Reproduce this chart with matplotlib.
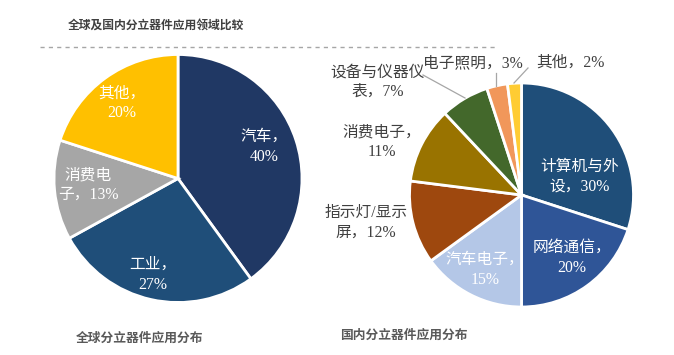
import matplotlib
matplotlib.use("Agg")
import matplotlib.pyplot as plt

# ---------------- data ----------------
global_labels = ["汽车，\n40%", "工业，\n27%", "消费电\n子，13%", "其他，\n20%"]
global_values = [40, 27, 13, 20]

china_labels = ["计算机与外\n设，30%", "网络通信，\n20%", "汽车电子，\n15%",
                "指示灯/显示\n屏，12%", "消费电子，\n11%", "设备与仪器仪\n表，7%",
                "电子照明，3%", "其他，2%"]
china_values = [30, 20, 15, 12, 11, 7, 3, 2]

title = "全球及国内分立器件应用领域比较"
sub_left = "全球分立器件应用分布"
sub_right = "国内分立器件应用分布"

# ---------------- style / layout ----------------
W, H = 674, 355
global_colors = ["#203864", "#1F4E79", "#A6A6A6", "#FFC000"]
china_colors = ["#1F4E79", "#2F5597", "#B4C7E7", "#9E480E", "#997300",
                "#43682B", "#F1975A", "#FFCC33"]

# label positions in pixel coords (x, y from top)
global_label_pos = [(264, 147), (153, 275), (88, 185), (122, 103)]
global_label_col = ["white"] * 4
china_label_pos = [(580, 177), (572, 258), (485, 270), (366, 223),
                   (382, 142), (378, 82), (473, 63), (570, 63)]
china_label_col = ["white", "white", "white", "#404040", "#404040",
                   "#404040", "#404040", "#404040"]

label_font = ["Liberation Serif", "Noto Sans CJK SC"]
cjk_font = ["Noto Sans CJK SC", "DejaVu Sans"]

fig = plt.figure(figsize=(W / 100, H / 100), dpi=100)
ax = fig.add_axes([0, 0, 1, 1])

def Y(y):
    return H - y

ax.pie(global_values, colors=global_colors, startangle=90, counterclock=False,
       center=(178, Y(178.5)), radius=124,
       wedgeprops=dict(edgecolor="white", linewidth=2))
ax.pie(china_values, colors=china_colors, startangle=90, counterclock=False,
       center=(521.5, Y(195)), radius=112,
       wedgeprops=dict(edgecolor="white", linewidth=2))

for lab, (x, y), c in zip(global_labels, global_label_pos, global_label_col):
    ax.text(x, Y(y), lab, ha="center", va="center", multialignment="center",
            color=c, fontsize=11.3, family=label_font, linespacing=1.3)
for lab, (x, y), c in zip(china_labels, china_label_pos, china_label_col):
    ax.text(x, Y(y), lab, ha="center", va="center", multialignment="center",
            color=c, fontsize=11.3, family=label_font, linespacing=1.3)

# leader lines
lc = "#A6A6A6"
ax.plot([423, 465], [Y(75), Y(98)], color=lc, lw=0.9)
ax.plot([496, 496], [Y(73), Y(86)], color=lc, lw=0.9)
ax.plot([528, 514], [Y(68), Y(83)], color=lc, lw=0.9)

# title and dashed separator
ax.text(68, Y(25), title, ha="left", va="center", fontsize=8.5,
        fontweight="bold", color="#404040", family=cjk_font)
ax.plot([40, 495], [Y(47), Y(47)], color="#A6A6A6", lw=1.0,
        linestyle=(0, (3, 3)))

# subtitles
ax.text(140, Y(338), sub_left, ha="center", va="center", fontsize=9.2,
        fontweight="bold", color="#595959", family=cjk_font)
ax.text(404, Y(335), sub_right, ha="center", va="center", fontsize=9.2,
        fontweight="bold", color="#595959", family=cjk_font)

ax.set_xlim(0, W)
ax.set_ylim(0, H)
ax.set_aspect("equal")
ax.axis("off")

fig.savefig("out.png", dpi=100, facecolor="white")
